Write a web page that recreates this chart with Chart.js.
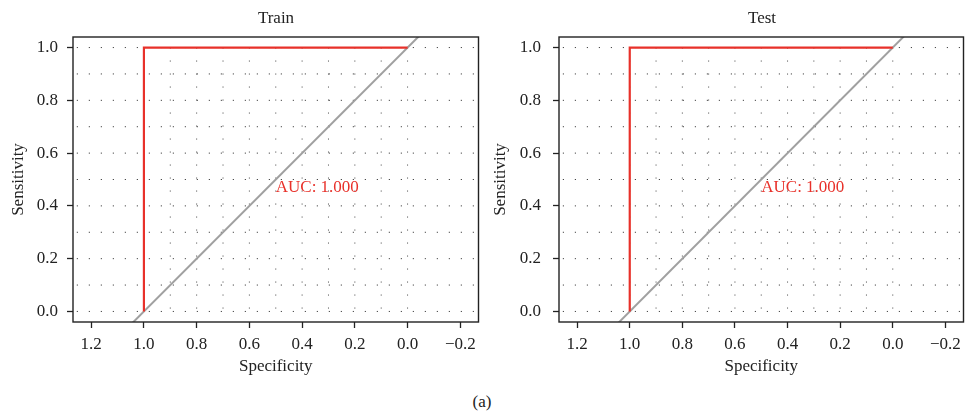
<!DOCTYPE html>
<html>
<head>
<meta charset="utf-8">
<script src="https://cdn.jsdelivr.net/npm/chart.js@4.4.1/dist/chart.umd.min.js"></script>
<style>
  html, body { margin: 0; padding: 0; background: #fff; }
  body { width: 965px; height: 416px; position: relative; overflow: hidden; font-family: "Liberation Serif", "DejaVu Serif", serif; color: #222; }
  canvas { position: absolute; top: 0; }
  .ttl { position: absolute; font-size: 17px; line-height: 20px; text-align: center; width: 200px; }
</style>
</head>
<body>
<canvas id="c1" width="480" height="385" style="left:0px"></canvas>
<canvas id="c2" width="485" height="385" style="left:480px"></canvas>
<div class="ttl" style="left:176px; top:8px;">Train</div>
<div class="ttl" style="left:662px; top:8px;">Test</div>
<div class="ttl" style="left:382px; top:392px;">(a)</div>
<script>
// ---- data ----
const panelTitles = ["Train", "Test"];
const trainSpecificity = [1.0, 1.0, 0.0];
const trainSensitivity = [0.0, 1.0, 1.0];
const testSpecificity = [1.0, 1.0, 0.0];
const testSensitivity = [0.0, 1.0, 1.0];
const aucValues = [1.000, 1.000];
const chanceSpecificity = [1.1, -0.1];
const chanceSensitivity = [-0.1, 1.1];
const xTickValues = [1.2, 1.0, 0.8, 0.6, 0.4, 0.2, 0.0, -0.2];
const yTickValues = [0.0, 0.2, 0.4, 0.6, 0.8, 1.0];
const gridVertical = [0.0, 0.1, 0.2, 0.3, 0.4, 0.5, 0.6, 0.7, 0.8, 0.9, 1.0];
const gridHorizontal = [0.0, 0.1, 0.2, 0.3, 0.4, 0.5, 0.6, 0.7, 0.8, 0.9, 1.0];
const xRange = [-0.269, 1.269];
const yRange = [-0.04, 1.04];

const FONT = "'Liberation Serif', 'DejaVu Serif', serif";
const RED = '#e8312a';
const GRAY = '#a0a0a0';
const INK = '#222222';

function fmt(v) {
  const s = Math.abs(v).toFixed(1);
  return v < -1e-9 ? '\u2212' + s : s;
}

const framePlugin = {
  id: 'frame',
  afterDatasetsDraw(chart, args, opts) {
    const {ctx, chartArea: a, scales} = chart;
    ctx.save();
    ctx.strokeStyle = INK;
    ctx.lineWidth = 1.4;
    ctx.strokeRect(a.left, a.top, a.right - a.left, a.bottom - a.top);
    ctx.fillStyle = RED;
    ctx.font = '17px ' + FONT;
    ctx.textAlign = 'left';
    ctx.textBaseline = 'top';
    ctx.fillText('AUC: ' + opts.auc.toFixed(3), scales.x.getPixelForValue(0.5), scales.y.getPixelForValue(0.5));
    ctx.restore();
  }
};

function makeChart(id, spec, sens, auc, yAxisWidth, yTickPad, yTitlePad) {
  const datasets = [];
  datasets.push({
    data: spec.map((x, i) => ({x: x, y: sens[i]})),
    borderColor: RED, borderWidth: 2.2, pointRadius: 0, tension: 0, order: 0, clip: 0
  });
  datasets.push({
    data: chanceSpecificity.map((x, i) => ({x: x, y: chanceSensitivity[i]})),
    borderColor: GRAY, borderWidth: 2, pointRadius: 0, order: 1, clip: 0
  });
  gridVertical.forEach(v => datasets.push({
    data: [{x: v, y: 1.0}, {x: v, y: 0.0}],
    borderColor: '#444', borderWidth: 1, borderDash: [1, 12], pointRadius: 0, order: 2, clip: 0
  }));
  gridHorizontal.forEach(h => datasets.push({
    data: [{x: 1.3, y: h}, {x: -0.3, y: h}],
    borderColor: '#222', borderWidth: 1, borderDash: [1, 11], pointRadius: 0, order: 2, clip: 0
  }));

  return new Chart(document.getElementById(id), {
    type: 'line',
    data: { datasets },
    options: {
      responsive: false,
      animation: false,
      devicePixelRatio: 1,
      layout: { padding: { top: 37, right: 1.5, left: 0, bottom: 0 } },
      plugins: { legend: { display: false }, tooltip: { enabled: false }, title: { display: false }, frame: { auc } },
      scales: {
        x: {
          type: 'linear', reverse: true, min: xRange[0], max: xRange[1],
          afterBuildTicks: s => { s.ticks = xTickValues.map(v => ({value: v})); },
          afterFit: s => { s.height = 63; s.paddingLeft = 0; s.paddingRight = 0; },
          ticks: { callback: v => fmt(v), color: INK, font: { family: FONT, size: 17 }, padding: 6, maxRotation: 0, autoSkip: false },
          grid: { display: true, drawOnChartArea: false, drawTicks: true, tickLength: 6, tickColor: INK, tickWidth: 1.3 },
          border: { display: false },
          title: { display: true, text: 'Specificity', color: INK, font: { family: FONT, size: 17 }, padding: { top: 0, bottom: 8 } }
        },
        y: {
          type: 'linear', min: yRange[0], max: yRange[1],
          afterBuildTicks: s => { s.ticks = yTickValues.map(v => ({value: v})); },
          afterFit: s => { s.width = yAxisWidth; s.paddingTop = 0; s.paddingBottom = 0; },
          ticks: { callback: v => fmt(v), color: INK, font: { family: FONT, size: 17 }, padding: yTickPad, autoSkip: false },
          grid: { display: true, drawOnChartArea: false, drawTicks: true, tickLength: 6, tickColor: INK, tickWidth: 1.3 },
          border: { display: false },
          title: { display: true, text: 'Sensitivity', color: INK, font: { family: FONT, size: 17 }, padding: { top: yTitlePad, bottom: 0 } }
        }
      }
    },
    plugins: [framePlugin]
  });
}

makeChart('c1', trainSpecificity, trainSensitivity, aucValues[0], 73, 9, 8);
makeChart('c2', testSpecificity, testSensitivity, aucValues[1], 79, 12, 10);
</script>
</body>
</html>
